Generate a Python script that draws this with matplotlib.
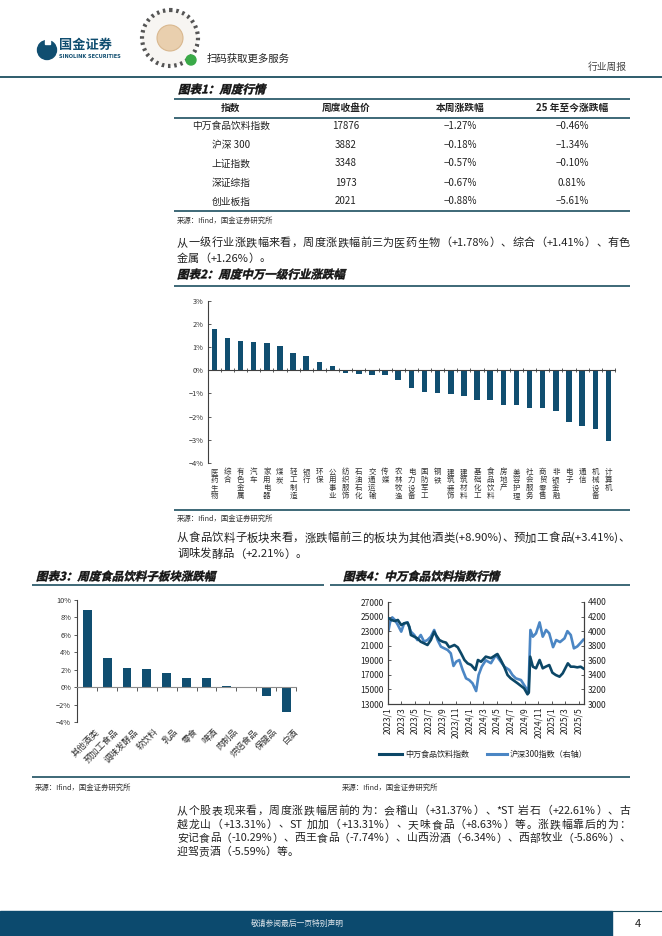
import re

import matplotlib
matplotlib.use("Agg")
import matplotlib.pyplot as plt
import numpy as np
import pandas as pd
from matplotlib.font_manager import FontProperties
from matplotlib.patches import Circle, PathPatch, Rectangle
from matplotlib.textpath import TextPath
from matplotlib.transforms import Affine2D

FONT = ['Noto Sans CJK SC', 'DejaVu Sans']
plt.rcParams['font.family'] = FONT
plt.rcParams['axes.unicode_minus'] = False

W, H = 662, 936
NAVY = '#104e70'
DARK_LINE = '#0c4767'
LIGHT_LINE = '#4b86c4'
RULE = '#1d4f60'
TXT = '#222222'
AX_C = '#404040'

# ---- table 1: weekly quotes
TABLE_HEAD = ['指数', '周度收盘价', '本周涨跌幅', '25 年至今涨跌幅']
TABLE_NAMES = ['中万食品饮料指数', '沪深 300', '上证指数', '深证综指', '创业板指']
TABLE_CLOSE = [17876, 3882, 3348, 1973, 2021]
TABLE_WEEK = [-1.27, -0.18, -0.57, -0.67, -0.88]
TABLE_YTD = [-0.46, -1.34, -0.10, 0.81, -5.61]

# ---- chart 2: SW level-1 industries, weekly change (%)
IND_NAMES = ['医药生物', '综合', '有色金属', '汽车', '家用电器', '煤炭', '轻工制造',
             '银行', '环保', '公用事业', '纺织服饰', '石油石化', '交通运输', '传媒',
             '农林牧渔', '电力设备', '国防军工', '钢铁', '建筑装饰', '建筑材料',
             '基础化工', '食品饮料', '房地产', '美容护理', '社会服务', '商贸零售',
             '非银金融', '电子', '通信', '机械设备', '计算机']
IND_CHG = [1.78, 1.41, 1.26, 1.23, 1.19, 1.06, 0.76, 0.63, 0.37, 0.19, -0.13,
           -0.18, -0.19, -0.19, -0.41, -0.76, -0.93, -0.98, -1.02, -1.11, -1.28,
           -1.27, -1.51, -1.52, -1.63, -1.64, -1.78, -2.23, -2.39, -2.53, -3.05]

# ---- chart 3: food & beverage sub-sectors, weekly change (%)
SUB_NAMES = ['其他酒类', '预加工食品', '调味发酵品', '软饮料', '乳品', '零食', '啤酒',
             '肉制品', '烘焙食品', '保健品', '白酒']
SUB_CHG = [8.90, 3.41, 2.21, 2.05, 1.70, 1.12, 1.02, 0.11, -0.04, -1.00, -2.85]

# ---- chart 4: index trend
FOOD_DATES = ['2023-01-03', '2023-01-16', '2023-01-31', '2023-02-14', '2023-03-01',
              '2023-03-14', '2023-03-29', '2023-04-06', '2023-04-13', '2023-04-28',
              '2023-05-12', '2023-05-27', '2023-06-11', '2023-06-26', '2023-07-11',
              '2023-07-26', '2023-08-03', '2023-08-18', '2023-09-02', '2023-09-17',
              '2023-10-01', '2023-10-24', '2023-11-08', '2023-11-23', '2023-12-08',
              '2023-12-22', '2024-01-07', '2024-01-26', '2024-02-06', '2024-02-20',
              '2024-03-12', '2024-04-04', '2024-05-03', '2024-05-18', '2024-06-02',
              '2024-06-17', '2024-07-01', '2024-08-01', '2024-08-30', '2024-09-14',
              '2024-09-20', '2024-09-26', '2024-10-08', '2024-10-22', '2024-11-07',
              '2024-11-21', '2024-12-04', '2024-12-20', '2025-01-03', '2025-01-18',
              '2025-02-04', '2025-02-18', '2025-03-13', '2025-03-26', '2025-04-09',
              '2025-04-24', '2025-05-09', '2025-05-21']
FOOD_IDX = [24760, 24530, 24390, 24530, 23840, 24070, 24160, 23610, 22470, 22240,
            22010, 21550, 21330, 21100, 21780, 22930, 22470, 21780, 21550, 21420,
            20780, 21100, 20780, 19950, 19040, 18580, 18350, 17670, 19040, 18800,
            19500, 19300, 19860, 19040, 18120, 16980, 16530, 15840, 15150, 14330,
            14600, 19500, 18120, 17900, 19040, 17900, 18120, 18350, 17300, 16980,
            16750, 17210, 18580, 18120, 18120, 18030, 18120, 17876]

CSI_DATES = ['2023-01-03', '2023-01-10', '2023-01-20', '2023-02-01', '2023-02-14',
             '2023-03-01', '2023-03-14', '2023-03-29', '2023-04-13', '2023-04-28',
             '2023-05-12', '2023-05-27', '2023-06-11', '2023-06-26', '2023-07-11',
             '2023-07-26', '2023-08-10', '2023-08-25', '2023-09-09', '2023-09-24',
             '2023-10-08', '2023-10-20', '2023-11-01', '2023-11-15', '2023-11-30',
             '2023-12-15', '2023-12-29', '2024-01-13', '2024-01-29', '2024-02-09',
             '2024-02-23', '2024-03-12', '2024-04-04', '2024-04-26', '2024-05-18',
             '2024-06-03', '2024-06-25', '2024-07-09', '2024-07-24', '2024-08-16',
             '2024-09-08', '2024-09-18', '2024-09-27', '2024-10-08', '2024-10-22',
             '2024-11-07', '2024-11-21', '2024-12-06', '2024-12-20', '2025-01-06',
             '2025-01-20', '2025-02-06', '2025-02-26', '2025-03-11', '2025-03-26',
             '2025-04-09', '2025-04-24', '2025-05-09', '2025-05-21']
CSI_IDX = [4006, 4120, 4189, 4153, 4084, 3993, 4107, 4121, 3993, 3947,
           3878, 3947, 3855, 3878, 3924, 4016, 3878, 3787, 3764, 3741,
           3695, 3522, 3581, 3604, 3467, 3352, 3329, 3284, 3178, 3398,
           3512, 3600, 3560, 3673, 3581, 3512, 3467, 3398, 3352, 3329,
           3215, 3150, 4016, 3924, 3970, 4120, 3924, 4016, 3970, 3780,
           3878, 3850, 3901, 4000, 3947, 3764, 3790, 3840, 3882]

PARA1 = ['从一级行业涨跌幅来看，周度涨跌幅前三为医药生物（+1.78%）、综合（+1.41%）、有色',
         '金属（+1.26%）。']
PARA2 = ['从食品饮料子板块来看，涨跌幅前三的板块为其他酒类(+8.90%)、预加工食品(+3.41%)、',
         '调味发酵品（+2.21%）。']
PARA3 = ['从个股表现来看，周度涨跌幅居前的为：会稽山（+31.37%）、*ST 岩石（+22.61%）、古',
         '越龙山（+13.31%）、ST 加加（+13.31%）、天味食品（+8.63%）等。涨跌幅靠后的为：',
         '安记食品（-10.29%）、西王食品（-7.74%）、山西汾酒（-6.34%）、西部牧业（-5.86%）、',
         '迎驾贡酒（-5.59%）等。']
SOURCE = '来源：Ifind，国金证券研究所'


fig = plt.figure(figsize=(W / 100, H / 100), dpi=100)
page = fig.add_axes([0, 0, 1, 1])
page.set_xlim(0, W)
page.set_ylim(H, 0)
page.axis('off')
renderer = fig.canvas.get_renderer()


def px_axes(x0, y0, x1, y1):
    return fig.add_axes([x0 / W, 1 - y1 / H, (x1 - x0) / W, (y1 - y0) / H])


def hline(y, x0, x1, lw=1.2, color=RULE):
    page.plot([x0, x1], [y, y], color=color, lw=lw, solid_capstyle='butt')


def text_w(s, size):
    fp = FontProperties(family=FONT, size=size)
    w, _, _ = renderer.get_text_width_height_descent(s, fp, ismath=False)
    return w


def para_line(s, x0, x1, y, size, justify=True):
    toks = re.findall(r'[\x21-\x7e]+| |.', s)
    ws = [text_w(t, size) for t in toks]
    gap = (x1 - x0 - sum(ws)) / (len(toks) - 1) if justify else 0
    x = x0
    for t, w in zip(toks, ws):
        page.text(x, y, t, fontsize=size, color=TXT, ha='left', va='center')
        x += w + gap


def paragraph(lines, x0, x1, y0, dy, size):
    for i, s in enumerate(lines):
        para_line(s, x0, x1, y0 + i * dy, size, justify=i < len(lines) - 1)


def title(s, x, y, size=11.5):
    # bold slanted title, drawn from a text path so it can be sheared
    tp = TextPath((0, 0), s, size=size,
                  prop=FontProperties(family='Noto Sans CJK SC', weight='bold'))
    tr = Affine2D().skew_deg(14, 0).scale(1, -1).translate(x, y + size * 0.38)
    page.add_patch(PathPatch(tp, transform=tr + page.transData,
                             facecolor='#111111', edgecolor='#111111', lw=0.3))


def source(x, y):
    page.text(x, y, SOURCE, fontsize=5.3, color='#333333', ha='left', va='center')


# ---- header
page.add_patch(Circle((47, 50), 9.5, color=NAVY))
page.add_patch(Rectangle((45, 38), 5, 6, color='white'))
page.text(59, 45, '国金证券', fontsize=9.5, fontweight='bold', color=NAVY,
          ha='left', va='center')
page.text(59, 56, 'SINOLINK SECURITIES', fontsize=3.6, fontweight='bold',
          color=NAVY, ha='left', va='center', family='DejaVu Sans')
page.add_patch(Circle((170, 38), 28, facecolor='#f7f5f2', edgecolor='#555555',
                      lw=3, ls=(0, (0.6, 0.9))))
page.add_patch(Circle((170, 38), 13, facecolor='#e9cfae', edgecolor='#d9b88f', lw=0.8))
page.add_patch(Circle((191, 60), 5, color='#3aaa48'))
page.text(207, 59, '扫码获取更多服务', fontsize=7.5, color=TXT, ha='left', va='center')
page.text(627, 67, '行业周报', fontsize=7, color='#444444', ha='right', va='center')
hline(77, 0, W, lw=1.3)

# ---- table 1
title('图表1：周度行情', 178, 89)
hline(98.5, 174, 630)
col_x = [231, 346, 460, 572]
for cx, h in zip(col_x, TABLE_HEAD):
    page.text(cx, 107.5, h, fontsize=7, fontweight='bold', color=TXT,
              ha='center', va='center')
hline(117.5, 174, 630)
row_y = [126, 145, 163.5, 182.5, 201.5]
for i, ry in enumerate(row_y):
    cells = [TABLE_NAMES[i], f'{TABLE_CLOSE[i]}', f'{TABLE_WEEK[i]:.2f}%',
             f'{TABLE_YTD[i]:.2f}%']
    for cx, c in zip(col_x, cells):
        page.text(cx, ry, c.replace('-', '−'), fontsize=7, color=TXT,
                  ha='center', va='center')
hline(211, 174, 630)
source(177, 220.5)

paragraph(PARA1, 177, 630, 243, 15.5, 8)

# ---- chart 2
title('图表2：周度中万一级行业涨跌幅', 177, 274)
hline(286, 174, 630)
ax2 = px_axes(207.7, 301, 615, 462.7)
x2 = np.arange(len(IND_NAMES))
ax2.bar(x2, IND_CHG, width=0.42, color=NAVY, zorder=2)
ax2.set_xlim(-0.5, len(x2) - 0.5)
ax2.set_ylim(-4, 3)
ax2.set_yticks(range(-4, 4))
ax2.yaxis.set_major_formatter(lambda v, p: f'{v:.0f}%'.replace('-', '−'))
ax2.spines[['top', 'right']].set_visible(False)
ax2.spines['bottom'].set_position(('data', 0))
for sp in ('left', 'bottom'):
    ax2.spines[sp].set_color(AX_C)
    ax2.spines[sp].set_linewidth(0.8)
ax2.set_xticks(np.arange(len(x2) + 1) - 0.5)
ax2.tick_params(axis='x', labelbottom=False, direction='inout', length=3,
                width=0.6, color=AX_C)
ax2.tick_params(axis='y', direction='in', length=2.5, width=0.6, color=AX_C,
                labelsize=5.3, labelcolor='#333333', pad=3)
ax2.patch.set_alpha(0)
for i, n in enumerate(IND_NAMES):
    ax2.text(i, -0.035, '\n'.join(n), transform=ax2.get_xaxis_transform(),
             ha='center', va='top', fontsize=5.4, color='#333333', linespacing=1.0)
hline(510, 174, 630)
source(177, 519)

paragraph(PARA2, 177, 630, 538, 16, 8.2)

# ---- chart 3
title('图表3：周度食品饮料子板块涨跌幅', 36, 576)
hline(584.5, 32, 324)
ax3 = px_axes(77.3, 600, 296, 722.3)
x3 = np.arange(len(SUB_NAMES))
ax3.bar(x3, SUB_CHG, width=0.45, color=NAVY, zorder=2)
ax3.set_xlim(-0.5, len(x3) - 0.5)
ax3.set_ylim(-4, 10)
ax3.set_yticks(range(-4, 11, 2))
ax3.yaxis.set_major_formatter(lambda v, p: f'{v:.0f}%'.replace('-', '−'))
ax3.spines[['top', 'right']].set_visible(False)
ax3.spines['bottom'].set_position(('data', 0))
ax3.spines['bottom'].set_color('#8c8c8c')
ax3.spines['left'].set_color(AX_C)
ax3.spines['left'].set_linewidth(0.8)
ax3.set_xticks(np.arange(len(x3) + 1) - 0.5)
ax3.tick_params(axis='x', labelbottom=False, direction='out', length=3,
                width=0.6, color=AX_C)
ax3.tick_params(axis='y', direction='out', length=2.5, width=0.6, color=AX_C,
                labelsize=5.3, labelcolor='#333333', pad=2)
ax3.patch.set_alpha(0)
for i, n in enumerate(SUB_NAMES):
    ax3.text(i + 0.35, -0.04, n, transform=ax3.get_xaxis_transform(), rotation=45,
             rotation_mode='anchor', ha='right', va='top', fontsize=6.3,
             color='#333333')
hline(777, 32, 630)
source(35, 788)

# ---- chart 4
title('图表4：中万食品饮料指数行情', 343, 576)
hline(584.5, 330, 630)
ax4 = px_axes(388, 602, 584, 704)
ax4.plot(pd.to_datetime(FOOD_DATES), FOOD_IDX, color=DARK_LINE, lw=1.9, zorder=3)
ax4r = ax4.twinx()
ax4r.plot(pd.to_datetime(CSI_DATES), CSI_IDX, color=LIGHT_LINE, lw=1.9)
ax4.set_zorder(ax4r.get_zorder() + 1)
ax4.patch.set_visible(False)
ax4.set_ylim(13000, 27000)
ax4.set_yticks(range(13000, 27001, 2000))
ax4r.set_ylim(3000, 4400)
ax4r.set_yticks(range(3000, 4401, 200))
ax4.set_xlim(pd.Timestamp('2023-01-01'), pd.Timestamp('2025-05-24'))
ticks = pd.date_range('2023-01-01', '2025-05-01', freq='2MS')
ax4.set_xticks(ticks)
ax4.set_xticklabels([f'{d.year}/{d.month}' for d in ticks], rotation=90)
for a in (ax4, ax4r):
    a.spines['top'].set_visible(False)
    for sp in ('left', 'right', 'bottom'):
        a.spines[sp].set_color(AX_C)
        a.spines[sp].set_linewidth(0.8)
    a.tick_params(direction='in', length=2.5, width=0.6, color=AX_C,
                  labelsize=6.1, labelcolor='#222222', pad=3)
ax4.tick_params(axis='x', pad=2)

page.plot([379, 402], [754, 754], color=DARK_LINE, lw=2.2)
page.text(405, 754, '中万食品饮料指数', fontsize=5.8, color=TXT, ha='left', va='center')
page.plot([487, 507], [754, 754], color=LIGHT_LINE, lw=2.2)
page.text(510, 754, '沪深300指数（右轴）', fontsize=5.8, color=TXT, ha='left', va='center')
source(342, 788)

paragraph(PARA3, 177, 630, 811, 13.7, 7.8)

# ---- footer
page.add_patch(Rectangle((0, 910.5), 612, 26, color='#0c4a6e'))
hline(910.5, 612, W, lw=0.8)
page.text(297, 924, '敬请参阅最后一页特别声明', fontsize=5.6, color='#dfe6ec',
          ha='center', va='center')
page.text(638, 924, '4', fontsize=8, color=TXT, ha='center', va='center')

fig.savefig('out.png', dpi=100)
